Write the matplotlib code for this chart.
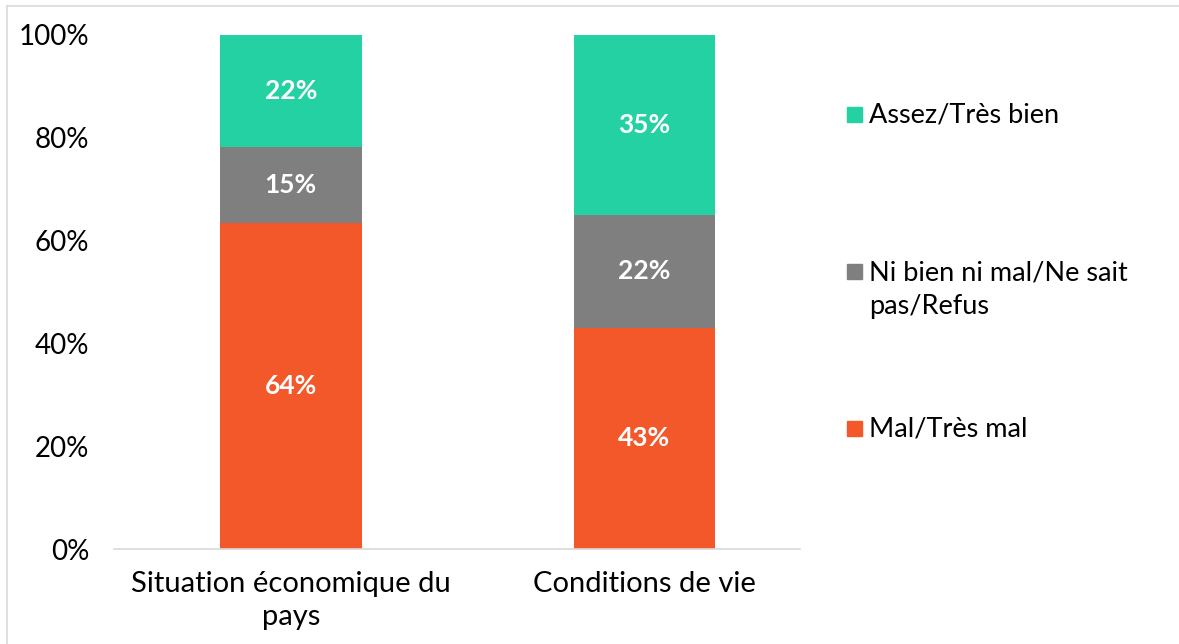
import numpy as np
import matplotlib.pyplot as plt
from matplotlib.patches import Rectangle
from matplotlib.lines import Line2D

plt.rcParams['font.family'] = ['Lato', 'DejaVu Sans']

categories = ['Situation économique du\npays', 'Conditions de vie']
series = ['Mal/Très mal', 'Ni bien ni mal/Ne sait\npas/Refus', 'Assez/Très bien']
mal = [64, 43]
neutre = [15, 22]
bien = [22, 35]
colors = ['#F3582B', '#7F7F7F', '#24D1A2']

values = np.array([mal, neutre, bien], dtype=float)
shares = values / values.sum(axis=0) * 100  # 100% stacked

fig = plt.figure(figsize=(11.79, 6.44), dpi=100)
ax = fig.add_axes([0.0967, 0.1475, 0.5818, 0.7982])

x = np.arange(len(categories))
bottom = np.zeros(len(categories))
for i in range(len(series)):
    ax.bar(x, shares[i], bottom=bottom, width=0.4, color=colors[i])
    for xi, b, h, v in zip(x, bottom, shares[i], values[i]):
        ax.text(xi, b + h / 2, f'{v:.0f}%', ha='center', va='center',
                color='white', fontsize=19, fontweight='bold')
    bottom += shares[i]

ax.set_xlim(-0.5, 1.44)
ax.set_ylim(0, 100)
ax.set_yticks(np.arange(0, 101, 20))
ax.set_yticklabels([f'{t}%' for t in range(0, 101, 20)], fontsize=20)
ax.set_xticks(x)
ax.set_xticklabels(categories, fontsize=21, linespacing=1.3)
ax.tick_params(axis='both', length=0, colors='#000000')
ax.tick_params(axis='y', pad=18)
ax.tick_params(axis='x', pad=16)
for s in ['top', 'right', 'left']:
    ax.spines[s].set_visible(False)
ax.spines['bottom'].set_color('#D9D9D9')
ax.spines['bottom'].set_linewidth(1.2)

# legend, top entry first
W, H = 1179, 644
legend_y = [114, 271, 428]
for (label, color), yc in zip(reversed(list(zip(series, colors))), legend_y):
    fig.patches.append(Rectangle((847 / W, 1 - (yc + 7.5) / H), 15 / W, 15 / H,
                                 transform=fig.transFigure, color=color))
    fig.text(869 / W, 1 - (yc - 11) / H, label, ha='left', va='top',
             fontsize=19.5, linespacing=1.45)

# chart frame
fig.add_artist(Line2D([7 / W, 1], [1 - 6 / H, 1 - 6 / H], color='#D9D9D9', lw=1.2))
fig.add_artist(Line2D([7 / W, 7 / W], [0, 1 - 6 / H], color='#D9D9D9', lw=1.2))

fig.savefig('out.png', dpi=100)
